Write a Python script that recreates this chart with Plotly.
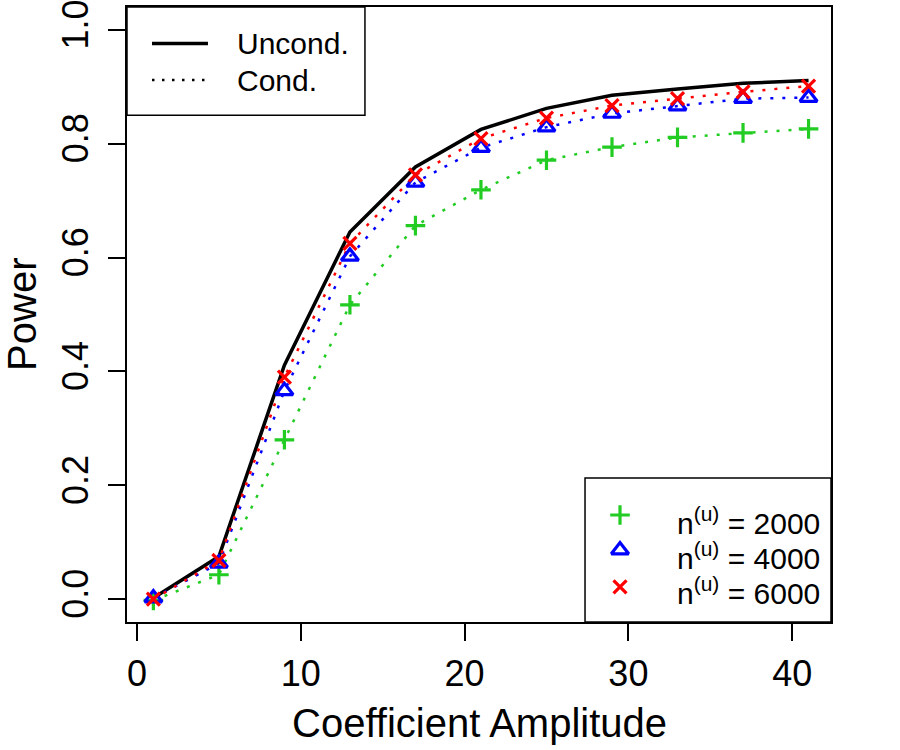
import plotly.graph_objects as go

amplitude = [1, 5, 9, 13, 17, 21, 25, 29, 33, 37, 41]
uncond = [0.002, 0.075, 0.411, 0.645, 0.759, 0.825, 0.862, 0.885, 0.896, 0.906, 0.911]
cond_2000 = [-0.002, 0.043, 0.280, 0.517, 0.656, 0.719, 0.771, 0.794, 0.811, 0.819, 0.826]
cond_4000 = [0.002, 0.063, 0.366, 0.602, 0.732, 0.793, 0.829, 0.853, 0.866, 0.879, 0.881]
cond_6000 = [0.000, 0.068, 0.390, 0.625, 0.745, 0.809, 0.845, 0.867, 0.879, 0.891, 0.901]

x_ticks = [0, 10, 20, 30, 40]
y_ticks = [0.0, 0.2, 0.4, 0.6, 0.8, 1.0]
y_ticklabels = ["0.0", "0.2", "0.4", "0.6", "0.8", "1.0"]

series_labels = ["2000", "4000", "6000"]
series_colors = ["#22CC22", "#0000FF", "#FF0000"]
series_symbols = ["cross-thin-open", "triangle-up-open", "x-thin-open"]
series_sizes = [14, 15, 13]
series_values = [cond_2000, cond_4000, cond_6000]

FONT = "Liberation Sans, Arial, Helvetica, sans-serif"

fig = go.Figure()

# Unconditional (solid black)
fig.add_trace(go.Scatter(x=amplitude, y=uncond, mode="lines",
                         line=dict(color="black", width=3.5),
                         showlegend=False, hoverinfo="skip"))

# Conditional series (dotted lines + markers)
for vals, col in zip(series_values, series_colors):
    fig.add_trace(go.Scatter(x=amplitude, y=vals, mode="lines",
                             line=dict(color=col, width=2.5, dash="3px,9px"),
                             showlegend=False, hoverinfo="skip"))
for vals, col, sym, sz in zip(series_values, series_colors, series_symbols, series_sizes):
    fig.add_trace(go.Scatter(x=amplitude, y=vals, mode="markers",
                             marker=dict(symbol=sym, size=sz, color=col,
                                         line=dict(color=col, width=3.2)),
                             showlegend=False, hoverinfo="skip"))

# ---- legend 2 markers (overlay axes in plot-fraction coordinates)
leg2_marker_x = 0.7003
leg2_rows_y = [0.174, 0.117, 0.057]
for yy, col, sym, sz in zip(leg2_rows_y, series_colors, series_symbols, series_sizes):
    fig.add_trace(go.Scatter(x=[leg2_marker_x], y=[yy], mode="markers", xaxis="x2", yaxis="y2",
                             marker=dict(symbol=sym, size=sz, color=col,
                                         line=dict(color=col, width=3.2)),
                             showlegend=False, hoverinfo="skip"))

shapes = []
# legend 1 box
shapes.append(dict(type="rect", xref="paper", yref="paper", x0=0, x1=0.338, y0=0.824, y1=1.0,
                   line=dict(color="black", width=1.5), fillcolor="rgba(0,0,0,0)", layer="above"))
# legend 2 box
shapes.append(dict(type="rect", xref="paper", yref="paper", x0=0.6506, x1=1.0, y0=0.0, y1=0.2341,
                   line=dict(color="black", width=1.5), fillcolor="rgba(0,0,0,0)", layer="above"))
# legend 1 line samples
shapes.append(dict(type="line", xref="paper", yref="paper", x0=0.0355, x1=0.115, y0=0.9407, y1=0.9407,
                   line=dict(color="black", width=3.5), layer="above"))
shapes.append(dict(type="line", xref="paper", yref="paper", x0=0.0355, x1=0.115, y0=0.8813, y1=0.8813,
                   line=dict(color="black", width=2.5, dash="2.5px,7.5px"), layer="above"))

annotations = []
annotations.append(dict(text="Uncond.", xref="paper", yref="paper", x=0.1534, y=0.9407,
                        xanchor="left", yanchor="middle", showarrow=False,
                        font=dict(family=FONT, size=30, color="black")))
annotations.append(dict(text="Cond.", xref="paper", yref="paper", x=0.1534, y=0.8813,
                        xanchor="left", yanchor="middle", showarrow=False,
                        font=dict(family=FONT, size=30, color="black")))
leg2_text_y = [0.164, 0.107, 0.050]
for yy, lab in zip(leg2_text_y, series_labels):
    annotations.append(dict(text="n<sup>(u)</sup> = " + lab, xref="paper", yref="paper",
                            x=0.778, y=yy, xanchor="left", yanchor="middle", showarrow=False,
                            font=dict(family=FONT, size=30, color="black")))
# axis titles
annotations.append(dict(text="Coefficient Amplitude", xref="paper", yref="paper",
                        x=0.5, y=-0.164, xanchor="center", yanchor="middle", showarrow=False,
                        font=dict(family=FONT, size=40, color="black")))
annotations.append(dict(text="Power", xref="paper", yref="paper", textangle=-90,
                        x=-0.150, y=0.5, xanchor="center", yanchor="middle", showarrow=False,
                        font=dict(family=FONT, size=40, color="black")))

fig.update_layout(
    width=900, height=750,
    margin=dict(l=127, r=69, t=7, b=128, autoexpand=False),
    paper_bgcolor="white", plot_bgcolor="white",
    showlegend=False,
    shapes=shapes, annotations=annotations,
    xaxis=dict(range=[-0.61, 42.37], tickvals=x_ticks, ticktext=[str(v) for v in x_ticks],
               showgrid=False, zeroline=False, showline=True, mirror=True, automargin=False,
               linecolor="black", linewidth=1.5, ticks="outside", ticklen=17, tickwidth=1.5,
               tickcolor="black", ticklabelstandoff=2, ticklabeloverflow="allow",
               tickfont=dict(family=FONT, size=36, color="black")),
    yaxis=dict(range=[-0.04, 1.04], tickvals=y_ticks, ticktext=y_ticklabels, tickangle=-90,
               showgrid=False, zeroline=False, showline=True, mirror=True, automargin=False,
               linecolor="black", linewidth=1.5, ticks="outside", ticklen=17, tickwidth=1.5,
               tickcolor="black", ticklabelstandoff=6, ticklabeloverflow="allow",
               tickfont=dict(family=FONT, size=36, color="black")),
    xaxis2=dict(range=[0, 1], overlaying="x", visible=False),
    yaxis2=dict(range=[0, 1], overlaying="y", visible=False),
)

fig.write_html("out.html")
